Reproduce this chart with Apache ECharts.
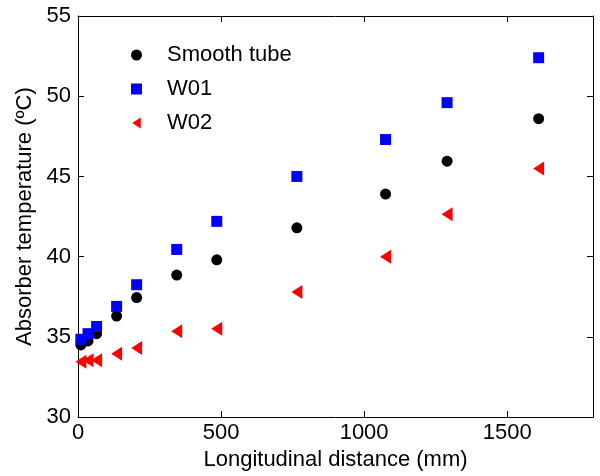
<!DOCTYPE html>
<html>
<head>
<meta charset="utf-8">
<script src="https://cdn.jsdelivr.net/npm/echarts@6/dist/echarts.min.js"></script>
<style>html,body{margin:0;padding:0;background:#fff}#c{width:600px;height:476px}</style>
</head>
<body>
<div id="c"></div>
<script>
const distance = [10, 35, 65, 135, 205, 345, 485, 765, 1075, 1290, 1610];
const smoothTube = [34.5, 34.75, 35.2, 36.3, 37.45, 38.85, 39.8, 41.8, 43.9, 45.95, 48.6];
const w01 = [34.85, 35.2, 35.65, 36.9, 38.25, 40.45, 42.2, 45.0, 47.3, 49.6, 52.4];
const w02 = [33.45, 33.55, 33.55, 33.95, 34.3, 35.35, 35.5, 37.8, 40.0, 42.65, 45.5];
const xTicks = [0, 500, 1000, 1500];
const yTicks = [30, 35, 40, 45, 50, 55];
const seriesNames = ['Smooth tube', 'W01', 'W02'];

const FONT = '"Liberation Sans", Arial, sans-serif';
const pairs = ys => distance.map((x, i) => [x, ys[i]]);
const axisCommon = {
  axisLine: {show: true, onZero: false, lineStyle: {color: '#000', width: 1}},
  splitLine: {show: false}
};
const chart = echarts.init(document.getElementById('c'));
chart.setOption({
  animation: false,
  backgroundColor: '#fff',
  grid: {left: 78, right: 7, top: 16, bottom: 57, containLabel: false},
  legend: {
    orient: 'vertical', left: 126, top: 39,
    itemWidth: 11, itemHeight: 11, itemGap: 12,
    textStyle: {fontFamily: FONT, fontSize: 22, color: '#000', padding: [0, 0, 0, 20]},
    data: [
      {name: seriesNames[0]},
      {name: seriesNames[1]},
      {name: seriesNames[2], icon: 'path://M0,6.5L10,0L10,13Z'}
    ]
  },
  xAxis: [{
    type: 'value', min: 0, max: 1800, interval: 500, position: 'bottom',
    name: 'Longitudinal distance (mm)', nameLocation: 'middle', nameGap: 29,
    nameTextStyle: {fontFamily: FONT, fontSize: 22, color: '#000'},
    ...axisCommon,
    axisTick: {show: true, inside: true, length: 6, lineStyle: {color: '#000'}, customValues: xTicks},
    axisLabel: {fontFamily: FONT, fontSize: 22, color: '#000', margin: 5, customValues: xTicks,
      formatter: v => String(v)}
  }, {
    type: 'value', min: 0, max: 1800, interval: 500, position: 'top',
    ...axisCommon,
    axisTick: {show: true, inside: true, length: 6, lineStyle: {color: '#000'}, customValues: xTicks},
    axisLabel: {show: false}
  }],
  yAxis: [{
    type: 'value', min: 30, max: 55, interval: 5, position: 'left',
    name: 'Absorber temperature (\u00baC)', nameLocation: 'middle', nameGap: 42,
    nameTextStyle: {fontFamily: FONT, fontSize: 22, color: '#000'},
    ...axisCommon,
    axisTick: {show: true, inside: true, length: 6, lineStyle: {color: '#000'}, customValues: yTicks},
    axisLabel: {fontFamily: FONT, fontSize: 22, color: '#000', margin: 7, customValues: yTicks,
      formatter: v => String(v)}
  }, {
    type: 'value', min: 30, max: 55, interval: 5, position: 'right',
    ...axisCommon,
    axisTick: {show: true, inside: true, length: 6, lineStyle: {color: '#000'}, customValues: yTicks},
    axisLabel: {show: false}
  }],
  series: [
    {name: seriesNames[0], type: 'scatter', data: pairs(smoothTube), symbol: 'circle', symbolSize: 11,
     itemStyle: {color: '#000', opacity: 1}},
    {name: seriesNames[1], type: 'scatter', data: pairs(w01), symbol: 'rect', symbolSize: 11,
     itemStyle: {color: '#0000ff', opacity: 1}},
    {name: seriesNames[2], type: 'scatter', data: pairs(w02), symbol: 'triangle', symbolSize: [14, 11], symbolRotate: 90,
     itemStyle: {color: '#ff0000', opacity: 1}}
  ]
});
</script>
</body>
</html>
